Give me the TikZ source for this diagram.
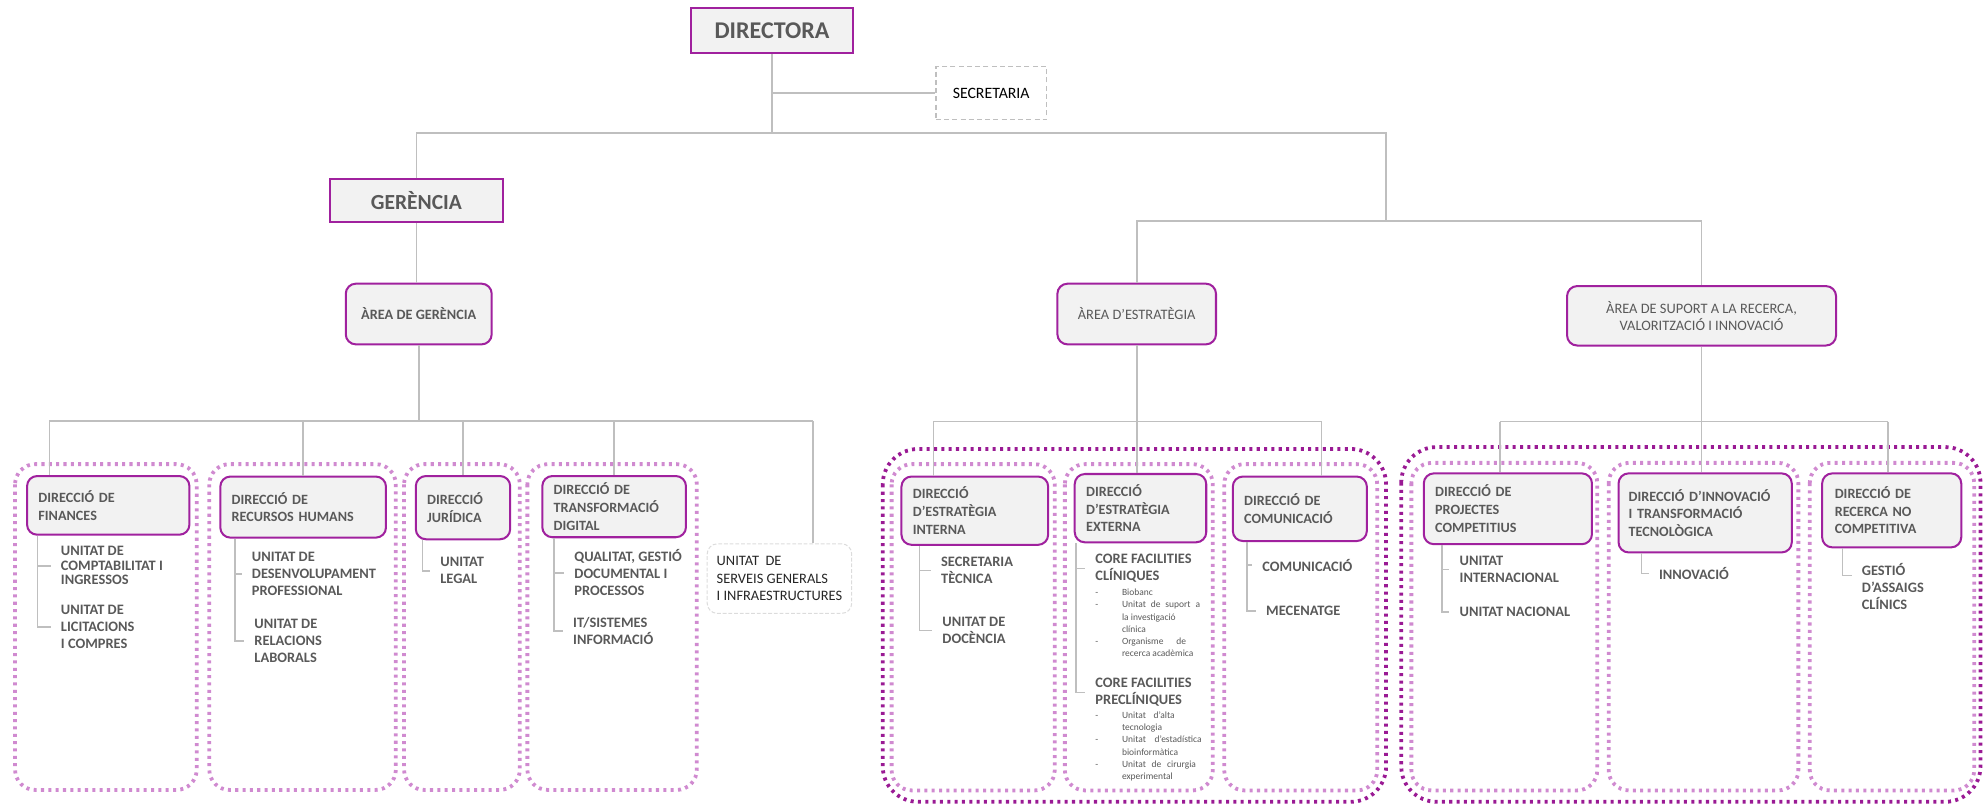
\documentclass[tikz,border=0pt]{standalone}
\usepackage{fontspec}
\setmainfont{Carlito}
\hyphenpenalty=10000
\definecolor{boxpurple}{HTML}{A0219E}
\definecolor{boxfill}{HTML}{F2F2F2}
\definecolor{txtgray}{HTML}{595959}
\definecolor{linegray}{HTML}{BFBFBF}
\definecolor{grplight}{HTML}{D08AD0}
\definecolor{grpdark}{HTML}{9A1A94}
\tikzset{
  conn/.style={draw=linegray, line width=1.3pt},
  topbox/.style={draw=boxpurple, fill=boxfill, line width=1.5pt, text=txtgray,
    font=\bfseries\fontsize{19}{22}\selectfont, anchor=north west},
  areabox/.style={draw=boxpurple, fill=boxfill, line width=1.6pt, rounded corners=8pt,
    text=txtgray, align=center, anchor=north west},
  dirbox/.style={draw=boxpurple, fill=boxfill, line width=1.6pt, rounded corners=8pt,
    text=txtgray, font=\bfseries\fontsize{11.2}{14}\selectfont, align=left,
    inner xsep=9pt, anchor=north west},
  unit/.style={text=txtgray, font=\bfseries\fontsize{11.4}{13.5}\selectfont, align=left,
    inner xsep=8pt, inner ysep=0pt, anchor=west},
  grp/.style={draw=grplight, line width=3pt, dash pattern=on 2.4pt off 3.4pt, rounded corners=16pt},
  biggrp/.style={grp, draw=grpdark, rounded corners=28pt},
  minilist/.style={text=txtgray, font=\fontsize{7.5}{9.7}\selectfont, inner sep=0pt, anchor=north west}
}
\begin{document}
\begin{tikzpicture}[x=1pt, y=-1pt]
  \useasboundingbox (0,0) rectangle (1568,635.7);

  % dotted groups
  \draw[grp] (11.9,367) rectangle (155.5,624.6);
  \draw[grp] (165.5,367) rectangle (313,624.6);
  \draw[grp] (319.5,367) rectangle (411,624.6);
  \draw[grp] (417,367) rectangle (551,624.6);
  \draw[biggrp] (698,355) rectangle (1096,634);
  \draw[grp] (705,367) rectangle (834,625);
  \draw[grp] (842,367) rectangle (959,625);
  \draw[grp] (968,367) rectangle (1089,625);
  \draw[biggrp] (1108,353.5) rectangle (1566,634);
  \draw[grp] (1116,366) rectangle (1263,625);
  \draw[grp] (1272,366) rectangle (1422,625);
  \draw[grp] (1431,366) rectangle (1561,625);

  % top
  \node[topbox, minimum width=128pt, minimum height=36pt] (dir) at (545.7,5.3) {DIRECTORA};
  \node[draw=linegray, dash pattern=on 4pt off 2.5pt, line width=1pt, minimum width=87.5pt,
    minimum height=42pt, anchor=north west, font=\fontsize{12.5}{15}\selectfont] (sec) at (739.5,52.2) {SECRETARIA};
  \node[topbox, font=\bfseries\fontsize{17}{20}\selectfont, minimum width=137pt,
    minimum height=33.7pt] (ger) at (260,141) {GERÈNCIA};

  \node[areabox, font=\bfseries\fontsize{11.3}{14}\selectfont, minimum width=115.4pt,
    minimum height=48pt] (ager) at (272.6,223.5) {ÀREA DE GERÈNCIA};
  \node[areabox, font=\fontsize{11.4}{14}\selectfont, minimum width=125.4pt,
    minimum height=48pt] (aest) at (835.3,223.5) {ÀREA D’ESTRATÈGIA};
  \node[areabox, font=\fontsize{11.4}{13.5}\selectfont, minimum width=212.7pt,
    minimum height=47pt] (asup) at (1238.3,225.4) {ÀREA DE SUPORT A LA RECERCA,\\VALORITZACIÓ I INNOVACIÓ};

  \coordinate (top) at (609,105.4);
  \coordinate (topR) at (1096,105.4);
  \coordinate (split) at (1096,174.5);
  \draw[conn] (dir.south) -- (dir.south |- top);
  \draw[conn] (dir.south |- sec.west) -- (sec.west);
  \draw[conn] (ger.north) |- (topR) -- (split);
  \draw[conn] (aest.north) |- (split) -| (asup.north);
  \draw[conn] (ger.south) -- (ger.south |- ager.north);

  % gerencia
  \node[dirbox, text width=110.4pt, minimum height=46.4pt] (fin) at (20.6,375.6) {DIRECCIÓ DE\\FINANCES};
  \node[dirbox, text width=113pt, minimum height=48.3pt] (rrhh) at (173.4,376) {DIRECCIÓ DE\\RECURSOS HUMANS};
  \node[dirbox, text width=56.6pt, minimum height=50pt] (jur) at (328,375.6) {DIRECCIÓ\\JURÍDICA};
  \node[dirbox, text width=95.6pt, minimum height=48.4pt] (tdig) at (428,375.6) {DIRECCIÓ DE\\TRANSFORMACIÓ\\DIGITAL};
  \node[draw=linegray!55, dash pattern=on 3pt off 1.5pt, rounded corners=8pt, line width=0.8pt,
    align=left, inner xsep=7.5pt, minimum height=55pt, anchor=north west,
    font=\fontsize{11.4}{13.8}\selectfont, text=black!85] (sgen) at (558.8,429.6)
    {UNITAT\ \ DE\\SERVEIS GENERALS\\I INFRAESTRUCTURES};

  \coordinate (gbL) at (39,333);
  \coordinate (gbR) at (643,333);
  \draw[conn] (ager.south) -- (ager.south |- gbL);
  \draw[conn] (gbL) -- (gbR);
  \draw[conn] (gbL) -- (gbL |- fin.north);
  \draw[conn] (rrhh.north |- gbL) -- (rrhh.north);
  \draw[conn] (jur.north |- gbL) -- (jur.north);
  \draw[conn] (tdig.north |- gbL) -- (tdig.north);
  \draw[conn] (gbR) -- (gbR |- sgen.north);

  \node[unit, font=\bfseries\fontsize{11.4}{11.5}\selectfont] (fu1) at (40,447.4) {UNITAT DE\\COMPTABILITAT I\\INGRESSOS};
  \node[unit] (fu2) at (40,496) {UNITAT DE\\LICITACIONS\\I COMPRES};
  \node[unit] (hu1) at (191,454) {UNITAT DE\\DESENVOLUPAMENT\\PROFESSIONAL};
  \node[unit] (hu2) at (193,506.8) {UNITAT DE\\RELACIONS\\LABORALS};
  \node[unit] (ju1) at (340,451.3) {UNITAT\\LEGAL};
  \node[unit] (tu1) at (446,452.9) {QUALITAT, GESTIÓ\\DOCUMENTAL I\\PROCESSOS};
  \node[unit] (tu2) at (445,498.9) {IT/SISTEMES\\INFORMACIÓ};

  \coordinate (fin-l) at ([xshift=9pt]fin.south west);
  \draw[conn] (fin-l) |- (fu2.west);
  \draw[conn] (fin-l |- fu1.west) -- (fu1.west);
  \coordinate (rrhh-l) at ([xshift=12.6pt]rrhh.south west);
  \draw[conn] (rrhh-l) |- (hu2.west);
  \draw[conn] (rrhh-l |- hu1.west) -- (hu1.west);
  \coordinate (jur-l) at ([xshift=6pt]jur.south west);
  \draw[conn] (jur-l) |- (ju1.west);
  \coordinate (tdig-l) at ([xshift=10pt]tdig.south west);
  \draw[conn] (tdig-l) |- (tu2.west);
  \draw[conn] (tdig-l |- tu1.west) -- (tu1.west);

  % estrategia
  \node[dirbox, text width=98pt, minimum height=54pt] (int) at (712,376) {DIRECCIÓ\\D’ESTRATÈGIA\\INTERNA};
  \node[dirbox, text width=86pt, minimum height=54pt] (ext) at (849,374) {DIRECCIÓ\\D’ESTRATÈGIA\\EXTERNA};
  \node[dirbox, text width=88pt, minimum height=51pt] (com) at (974,376) {DIRECCIÓ DE\\COMUNICACIÓ};

  \coordinate (ebL) at (738,333.4);
  \coordinate (ebR) at (1045,333.4);
  \draw[conn] (aest.south) -- (aest.south |- ext.north);
  \draw[conn] (ebL) -- (ebR);
  \draw[conn] (ebL) -- (ebL |- int.north);
  \draw[conn] (ebR) -- (ebR |- com.north);

  \node[unit] (iu1) at (736,451) {SECRETARIA\\TÈCNICA};
  \node[unit] (iu2) at (737,498.5) {UNITAT DE\\DOCÈNCIA};
  \node[unit] (ec1) at (858,449.5) {CORE FACILITIES\\CLÍNIQUES};
  \node[unit] (ec2) at (858,547.5) {CORE FACILITIES\\PRECLÍNIQUES};
  \node[minilist] (ecl1) at (866,464) {\begin{tabular}{@{}p{21pt}@{}l@{}}
    - & Biobanc\\
    - & \makebox[61.7pt][s]{Unitat de suport a}\\
      & la investigació\\
      & clínica\\
    - & \makebox[50.6pt][s]{Organisme de}\\
      & recerca acadèmica
  \end{tabular}};
  \node[minilist] (ecl2) at (866,561) {\begin{tabular}{@{}p{21pt}@{}l@{}}
    - & \makebox[41.6pt][s]{Unitat d’alta}\\
      & tecnologia\\
    - & \makebox[63pt][s]{Unitat d’estadística}\\
      & bioinformàtica\\
    - & \makebox[58.5pt][s]{Unitat de cirurgia}\\
      & experimental
  \end{tabular}};
  \node[unit] (cu1) at (990,447) {COMUNICACIÓ};
  \node[unit] (cu2) at (993,483) {MECENATGE};

  \coordinate (int-l) at ([xshift=15pt]int.south west);
  \draw[conn] (int-l) |- (iu2.west);
  \draw[conn] (int-l |- iu1.west) -- (iu1.west);
  \coordinate (ext-l) at ([xshift=2pt]ext.south west);
  \draw[conn] (ext-l) |- (ec2.west);
  \draw[conn] (ext-l |- ec1.west) -- (ec1.west);
  \coordinate (com-l) at ([xshift=12pt]com.south west);
  \draw[conn] (com-l) |- (cu2.west);
  \draw[conn] (com-l |- cu1.west) -- (cu1.west);

  % suport
  \node[dirbox, text width=115pt, minimum height=56pt] (proj) at (1125,373.5) {DIRECCIÓ DE\\PROJECTES\\COMPETITIUS};
  \node[dirbox, inner xsep=8pt, text width=121pt, minimum height=62.5pt] (inn) at (1279,373.5) {DIRECCIÓ D’INNOVACIÓ\\I TRANSFORMACIÓ\\TECNOLÒGICA};
  \node[dirbox, inner xsep=10pt, text width=90pt, minimum height=58.5pt] (noc) at (1440,373.5) {DIRECCIÓ DE\\RECERCA NO\\COMPETITIVA};

  \coordinate (sbL) at (1186,333.4);
  \coordinate (sbR) at (1493,333.4);
  \draw[conn] (asup.south) -- (asup.south |- inn.north);
  \draw[conn] (sbL) -- (sbR);
  \draw[conn] (sbL) -- (sbL |- proj.north);
  \draw[conn] (sbR) -- (sbR |- noc.north);

  \node[unit] (pu1) at (1146,450.3) {UNITAT\\INTERNACIONAL};
  \node[unit] (pu2) at (1146,484) {UNITAT NACIONAL};
  \node[unit] (nu1) at (1303.6,453.5) {INNOVACIÓ};
  \node[unit] (ru1) at (1464,464) {GESTIÓ\\D’ASSAIGS\\CLÍNICS};

  \coordinate (proj-l) at ([xshift=15pt]proj.south west);
  \draw[conn] (proj-l) |- (pu2.west);
  \draw[conn] (proj-l |- pu1.west) -- (pu1.west);
  \coordinate (inn-l) at ([xshift=19pt]inn.south west);
  \draw[conn] (inn-l) |- (nu1.west);
  \coordinate (noc-l) at ([xshift=17pt]noc.south west);
  \coordinate (noc-t) at ([yshift=9pt]ru1.west);
  \draw[conn] (noc-l) |- (noc-t);
\end{tikzpicture}
\end{document}
